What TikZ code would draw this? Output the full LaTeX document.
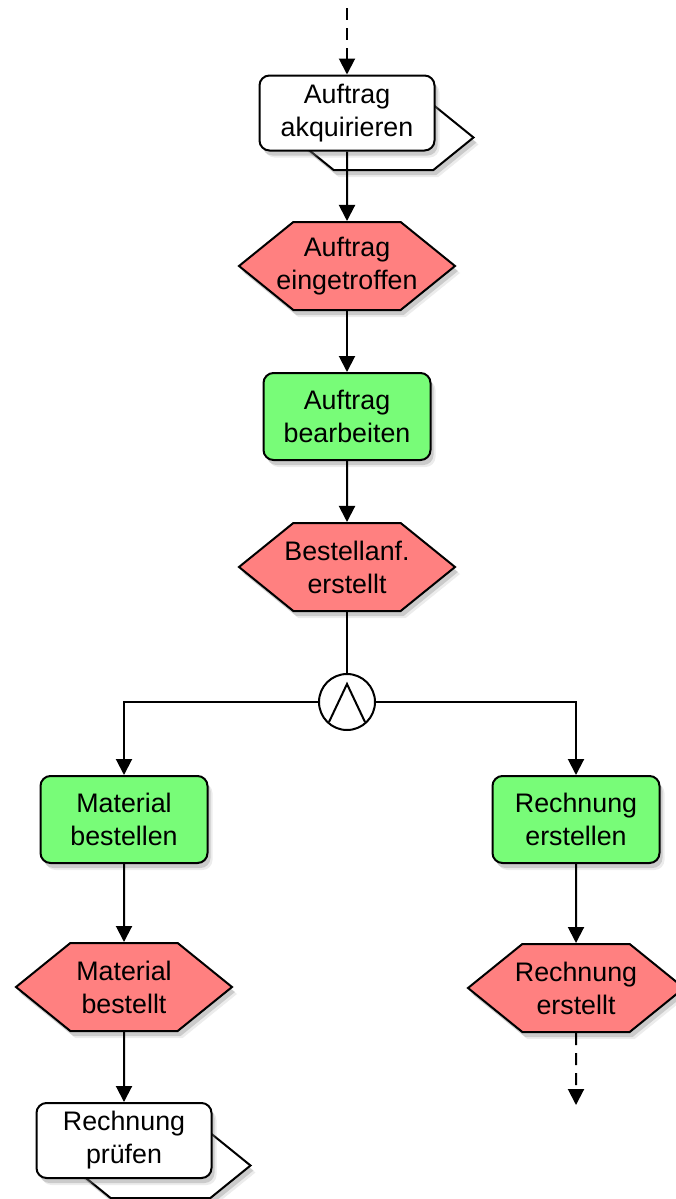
\documentclass[tikz,border=0pt]{standalone}
\usepackage{fontspec}
\setmainfont{Liberation Sans}
\usetikzlibrary{shapes.symbols,shadows,arrows.meta}
\definecolor{eventred}{RGB}{255,128,128}
\definecolor{funcgreen}{RGB}{120,252,120}
\tikzset{
  base/.style={draw,line width=1pt,align=center,font=\fontsize{13.4}{16.5}\selectfont,
    drop shadow={shadow xshift=2.5pt,shadow yshift=-3.5pt,opacity=.15},
    drop shadow={shadow xshift=1.5pt,shadow yshift=-2.5pt,opacity=.3}},
  func/.style={base,rectangle,rounded corners=5pt,fill=funcgreen,minimum width=83.5pt,minimum height=43.5pt,inner sep=0pt},
  ifbox/.style={base,rectangle,rounded corners=5pt,fill=white,minimum width=87.5pt,minimum height=37.5pt,inner sep=0pt},
  ifback/.style={base,signal,signal to=west and east,signal pointer angle=78,fill=white,minimum width=90pt,minimum height=32.5pt,inner sep=0pt},
  event/.style={base,signal,signal to=west and east,signal pointer angle=78,fill=eventred,minimum width=108pt,minimum height=44pt,inner xsep=-12pt,inner ysep=0pt},
  conn/.style={draw,circle,line width=1pt,fill=white,minimum size=28pt,inner sep=0pt},
  flow/.style={line width=1pt,-{Triangle[length=8pt,width=8pt]}},
  open/.style={flow,dash pattern=on 6pt off 4pt},
}
\begin{document}
\begin{tikzpicture}[x=0.5pt,y=-0.5pt]
      \useasboundingbox (0,0) rectangle (675,1199);
      \coordinate (start) at (347,8);
      \node[ifback] (ifbackA) at (383.5,137.5) {};
      \node[ifbox] (acq) at (347,113) {Auftrag\\akquirieren};
      \node[event] (arrived) at (347,266) {Auftrag\\eingetroffen};
      \node[func] (process) at (347,416.5) {Auftrag\\bearbeiten};
      \node[event] (request) at (347,567) {Bestellanf.\\erstellt};
      \node[conn] (and) at (347,702) {};
      \draw[line width=1pt] (and.center) ++(-18,20) -- ++(18,-38) -- ++(18,38);
      \node[func] (order) at (124,819.5) {Material\\bestellen};
      \node[func] (invoice) at (576,819.5) {Rechnung\\erstellen};
      \node[event] (ordered) at (124,987) {Material\\bestellt};
      \node[event] (invoiced) at (576,988) {Rechnung\\erstellt};
      \node[ifback] (ifbackB) at (160.5,1165.5) {};
      \node[ifbox] (check) at (124,1140.5) {Rechnung\\prüfen};
      \coordinate (end) at (576,1105);
      \draw[open] (start) -- (acq);
      \draw[flow] (acq) -- (arrived);
      \draw[flow] (arrived) -- (process);
      \draw[flow] (process) -- (request);
      \draw[line width=1pt] (request) -- (and);
      \draw[flow] (and) -| (order);
      \draw[flow] (and) -| (invoice);
      \draw[flow] (order) -- (ordered);
      \draw[flow] (invoice) -- (invoiced);
      \draw[flow] (ordered) -- (check);
      \draw[open] (invoiced) -- (end);
     \end{tikzpicture}
\end{document}
